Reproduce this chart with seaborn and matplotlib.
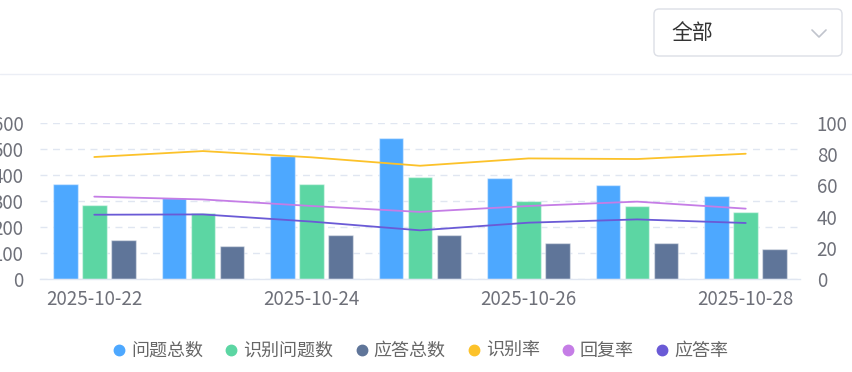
import numpy as np
import pandas as pd
import matplotlib.pyplot as plt
import seaborn as sns
from matplotlib.lines import Line2D
from matplotlib.patches import FancyBboxPatch

# data
dates = ['2025-10-22', '2025-10-23', '2025-10-24', '2025-10-25',
         '2025-10-26', '2025-10-27', '2025-10-28']
question_total = [365, 310, 474, 541, 387, 363, 320]
recognized_total = [286, 253, 365, 392, 299, 280, 257]
answer_total = [151, 128, 169, 168, 140, 138, 115]
recognize_rate = [78.2, 82.0, 78.0, 72.6, 77.3, 76.9, 80.3]
reply_rate = [52.8, 51.0, 46.8, 43.0, 46.8, 49.6, 45.1]
answer_rate = [41.2, 41.4, 36.8, 31.2, 36.1, 38.2, 35.9]

bar_names = ['问题总数', '识别问题数', '应答总数']
line_names = ['识别率', '回复率', '应答率']
bar_colors = ['#4da8ff', '#5cd6a3', '#5f7599']
line_colors = ['#fcc22a', '#c57de6', '#6a5ad6']

sns.set_theme(style="white")
plt.rcParams['font.family'] = ['Noto Sans CJK SC', 'DejaVu Sans']

fig = plt.figure(figsize=(8.52, 3.72), dpi=100)
W, H = 852, 372
ax = fig.add_axes([40 / W, (H - 279) / H, 760 / W, 156 / H])

bars = pd.DataFrame({
    'date': dates * 3,
    'series': np.repeat(bar_names, len(dates)),
    'value': question_total + recognized_total + answer_total,
})
sns.barplot(data=bars, x='date', y='value', hue='series', hue_order=bar_names,
            palette=bar_colors, width=0.8, gap=0.15, legend=False,
            edgecolor=(1, 1, 1, 0.45), linewidth=1, saturation=1, ax=ax)

ax.set_ylim(0, 600)
ax.set_yticks(range(0, 601, 100))
ax.set_xlim(-0.5, len(dates) - 0.5)
ax.set_axisbelow(True)
ax.yaxis.grid(True, color='#e0e6f1', linestyle=(0, (5, 4)), linewidth=1)
ax.xaxis.grid(False)
for s in ['top', 'left', 'right']:
    ax.spines[s].set_visible(False)
ax.spines['bottom'].set_color('#e0e6f1')
ax.spines['bottom'].set_linewidth(1)
ax.set_xlabel('')
ax.set_ylabel('')
ax.set_xticks(range(0, len(dates), 2))
ax.set_xticklabels(dates[::2])
ax.tick_params(axis='both', length=0, labelsize=13.5, colors='#6e7079')
ax.tick_params(axis='y', pad=12)
ax.tick_params(axis='x', pad=7)

ax2 = ax.twinx()
xs = np.arange(len(dates))
for vals, c in zip([recognize_rate, reply_rate, answer_rate], line_colors):
    sns.lineplot(x=xs, y=vals, color=c, linewidth=1.3, ax=ax2)
ax2.set_ylim(0, 100)
ax2.set_yticks(range(0, 101, 20))
ax2.set_xlim(-0.5, len(dates) - 0.5)
ax2.grid(False)
for s in ax2.spines.values():
    s.set_visible(False)
ax2.set_ylabel('')
ax2.tick_params(axis='y', length=0, labelsize=13.5, colors='#6e7079', pad=12)

# legend
handles = [Line2D([], [], marker='o', linestyle='', markersize=7.5,
                  markerfacecolor=c, markeredgecolor=c)
           for c in bar_colors + line_colors]
fig.legend(handles, bar_names + line_names, loc='center',
           bbox_to_anchor=(0.5 - 6 / W, (H - 351) / H), ncol=6, frameon=False,
           fontsize=13, labelcolor='#666666', handletextpad=0.27,
           columnspacing=1.15, handlelength=0.8)

# header: dropdown and separator
fig.add_artist(Line2D([0, 1], [(H - 74) / H] * 2, color='#ebeef5', linewidth=1))
box = FancyBboxPatch((6.54, (H - 56) / 100), 1.88, 0.47,
                     boxstyle='round,pad=0,rounding_size=0.05',
                     transform=fig.dpi_scale_trans, facecolor='white',
                     edgecolor='#dcdfe6', linewidth=1)
fig.add_artist(box)
fig.text(671 / W, (H - 33) / H, '全部', fontsize=15, color='#333333',
         va='center', ha='left')
fig.add_artist(Line2D([812 / W, 819 / W, 826 / W],
                      [(H - 30) / H, (H - 37) / H, (H - 30) / H],
                      color='#c0c4cc', linewidth=1.2))

fig.savefig('out.png', dpi=100)
